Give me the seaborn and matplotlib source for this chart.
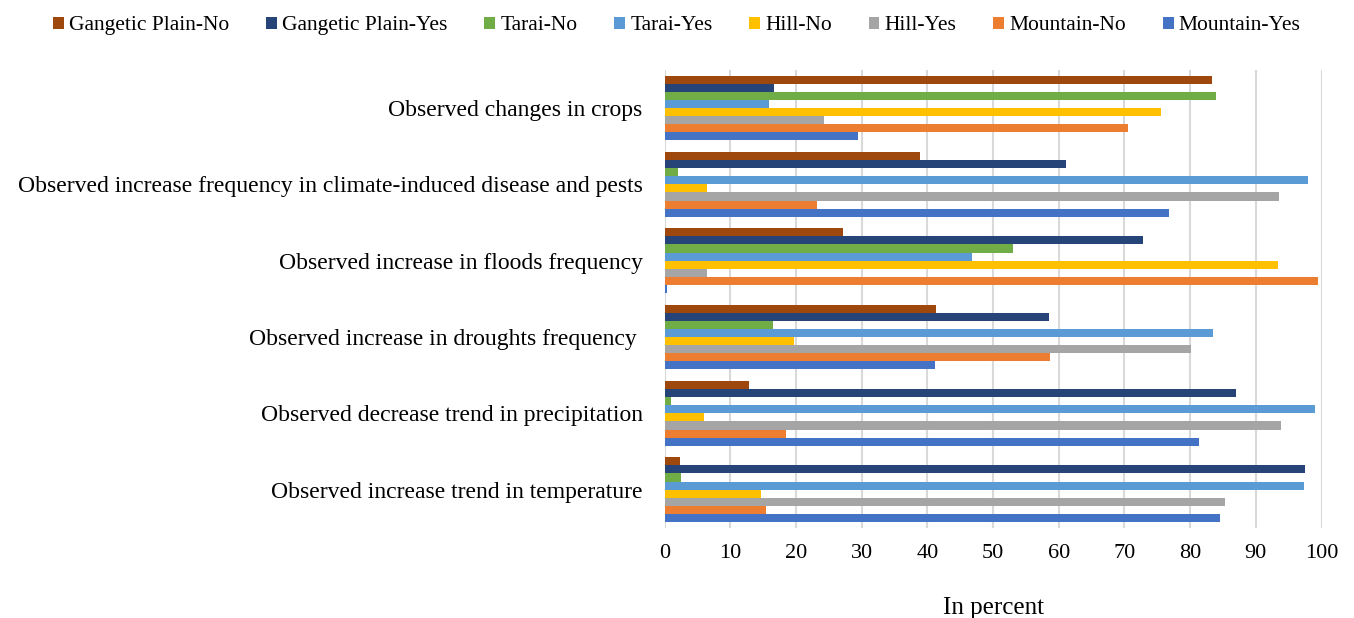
import pandas as pd
import seaborn as sns
from matplotlib import pyplot as plt

# Statements (top to bottom) and survey groups
statements = [
    "Observed changes in crops",
    "Observed increase frequency in climate-induced disease and pests",
    "Observed increase in floods frequency",
    "Observed increase in droughts frequency ",
    "Observed decrease trend in precipitation",
    "Observed increase trend in temperature",
]
groups = ["Gangetic Plain-No", "Gangetic Plain-Yes", "Tarai-No", "Tarai-Yes",
          "Hill-No", "Hill-Yes", "Mountain-No", "Mountain-Yes"]

# Percent values per group, one per statement
gangetic_no = [83.3, 38.9, 27.1, 41.3, 12.8, 2.3]
gangetic_yes = [16.6, 61.1, 72.8, 58.5, 87.0, 97.5]
tarai_no = [84.0, 2.0, 53.0, 16.4, 0.9, 2.4]
tarai_yes = [15.9, 98.0, 46.8, 83.5, 99.0, 97.4]
hill_no = [75.6, 6.5, 93.4, 19.7, 6.0, 14.6]
hill_yes = [24.3, 93.5, 6.5, 80.1, 93.9, 85.3]
mountain_no = [70.6, 23.1, 99.5, 58.7, 18.5, 15.4]
mountain_yes = [29.4, 76.8, 0.4, 41.1, 81.4, 84.5]

colors = ["#9E480E", "#264478", "#70AD47", "#5B9BD5",
          "#FFC000", "#A5A5A5", "#ED7D31", "#4472C4"]

series = [gangetic_no, gangetic_yes, tarai_no, tarai_yes,
          hill_no, hill_yes, mountain_no, mountain_yes]
rows = []
for g, vals in zip(groups, series):
    for s, v in zip(statements, vals):
        rows.append({"statement": s, "group": g, "value": v})
df = pd.DataFrame(rows)

sns.set_style("white")
plt.rcParams['font.family'] = ['Liberation Serif', 'DejaVu Serif']
plt.rcParams['text.color'] = 'black'
plt.rcParams['xtick.color'] = 'black'
plt.rcParams['ytick.color'] = 'black'
plt.rcParams['axes.labelcolor'] = 'black'

fig = plt.figure(figsize=(13.54, 6.18), dpi=100)
ax = fig.add_axes([0.491, 0.146, 0.485, 0.741])

sns.barplot(data=df, y="statement", x="value", hue="group", orient="h",
            order=statements, hue_order=groups, palette=colors,
            saturation=1, width=0.85, linewidth=0, ax=ax)

ax.set_xlim(0, 100)
ax.set_ylim(len(statements) - 0.5, -0.5)
ax.set_xticks(range(0, 101, 10))
ax.xaxis.grid(True, color="#d9d9d9", linewidth=1.5)
ax.set_axisbelow(True)
for sp in ax.spines.values():
    sp.set_visible(False)
ax.tick_params(axis="both", length=0)
ax.tick_params(axis="y", labelsize=17, pad=16)
ax.tick_params(axis="x", labelsize=16, pad=12)
ax.set_ylabel("")
ax.set_xlabel("In percent", fontsize=18, labelpad=24)

ax.legend_.remove()
handles, labels = ax.get_legend_handles_labels()
fig.legend(handles, labels, loc="center", bbox_to_anchor=(0.5, 0.958), ncol=8,
           frameon=False, fontsize=15.5, handlelength=0.5, handleheight=0.5,
           handletextpad=0.25, columnspacing=1.7)

fig.savefig("out.png", dpi=100)
